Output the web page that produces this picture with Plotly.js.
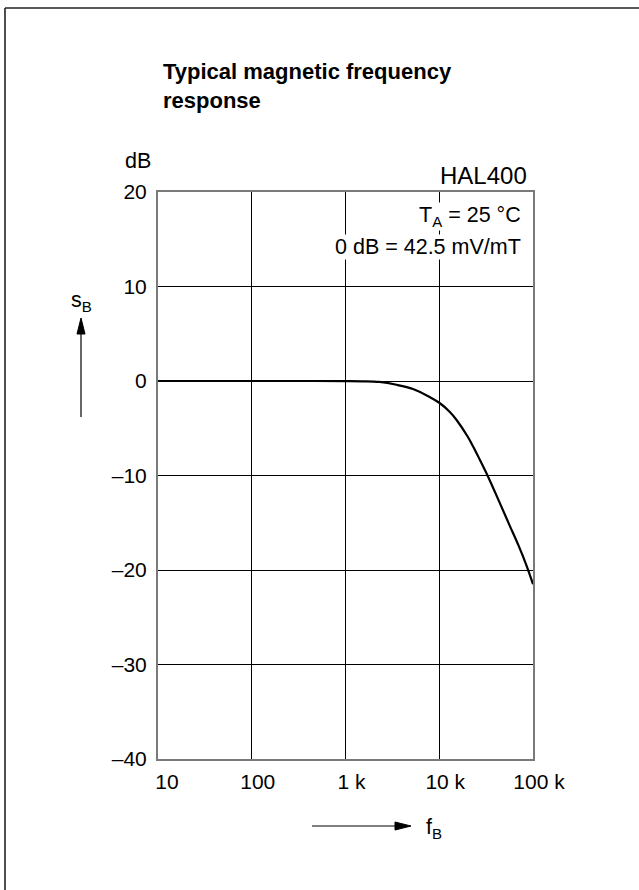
<!DOCTYPE html>
<html>
<head>
<meta charset="utf-8">
<script src="https://cdn.plot.ly/plotly-3.0.1.min.js"></script>
<style>
html,body{margin:0;padding:0;background:#fff;}
#chart{width:639px;height:890px;}
</style>
</head>
<body>
<div id="chart"></div>
<script>
// ---- data ----
const freqHz = [10, 30, 100, 300, 1000, 1500, 2300, 3500, 5250, 7900, 10000, 12900, 15240, 20000, 22900, 27000, 33100, 44200, 56400, 70000, 85100, 100000];
const gainDb = [0, 0, 0, 0, -0.01, -0.03, -0.1, -0.4, -0.85, -1.7, -2.3, -3.25, -4.1, -5.85, -6.9, -8.3, -10.1, -12.9, -15.3, -17.4, -19.5, -21.5];

const xTickVals = [10, 100, 1000, 10000, 100000];
const xTickText = ['\u00a010', '100', '1 k', '10 k', '100 k'];
const yTickVals = [-40, -30, -20, -10, 0, 10, 20];
const yTickText = ['\u201340', '\u201330', '\u201320', '\u201310', '0', '10', '20'];

// ---- layout geometry ----
const W = 639, H = 890;
const M = {l: 158, r: 106, t: 192, b: 131};
const PW = W - M.l - M.r, PH = H - M.t - M.b;
const px = v => (v - M.l) / PW;          // pixel x -> paper x
const py = v => (H - M.b - v) / PH;      // pixel y -> paper y

const FONT = '"Liberation Sans", Arial, Helvetica, sans-serif';

const trace = {
  x: freqHz, y: gainDb, type: 'scatter', mode: 'lines',
  line: {color: '#000', width: 2.2, shape: 'spline', smoothing: 1},
  hoverinfo: 'skip'
};

function seg(x0, y0, x1, y1, w, c) {
  return {type: 'line', xref: 'paper', yref: 'paper', x0: px(x0), y0: py(y0), x1: px(x1), y1: py(y1),
          line: {color: c || '#000', width: w || 1}};
}
function tri(pts) {
  const d = 'M ' + pts.map(p => px(p[0]) + ',' + py(p[1])).join(' L ') + ' Z';
  return {type: 'path', xref: 'paper', yref: 'paper', path: d, fillcolor: '#000', line: {color: '#000', width: 1}};
}

const shapes = [
  seg(5, 8, 5, 900, 1.6, '#222'),
  seg(5, 8, 650, 8, 1.6, '#222'),
  seg(81, 417, 81, 330, 1.2),
  tri([[81, 318], [77, 334], [85, 334]]),
  seg(312, 826, 398, 826, 1.2),
  tri([[411, 826], [395, 822], [395, 830]])
];

const ann = (x, y, text, xanchor, size, extra) => Object.assign({
  xref: 'paper', yref: 'paper', x: px(x), y: py(y), text: text,
  xanchor: xanchor, yanchor: 'middle', showarrow: false,
  font: {family: FONT, size: size, color: '#000'}
}, extra || {});

const annotations = [
  ann(153, 161, 'dB', 'right', 21.5),
  ann(529, 175, 'HAL400', 'right', 24),
  ann(522, 216, 'T<sub>A</sub> = 25 \u00b0C', 'right', 21.5, {bgcolor: '#fff', borderpad: 0}),
  ann(522, 247, '0 dB = 42.5 mV/mT', 'right', 21.5, {bgcolor: '#fff', borderpad: 0}),
  ann(69, 301, 's<sub>B</sub>', 'left', 21.5),
  ann(424, 828, 'f<sub>B</sub>', 'left', 21.5)
];

const axisCommon = {
  showgrid: true, gridcolor: '#000', gridwidth: 1,
  showline: true, mirror: true, linecolor: '#7a7a7a', linewidth: 2,
  zeroline: false, ticks: '', fixedrange: true,
  tickfont: {family: FONT, size: 21, color: '#000'}
};

const layout = {
  width: W, height: H,
  margin: M,
  paper_bgcolor: '#fff', plot_bgcolor: '#fff',
  showlegend: false,
  title: {
    text: 'Typical magnetic frequency<br>response',
    xref: 'container', yref: 'container',
    x: 163 / W, xanchor: 'left',
    y: 1 - 79 / H, yanchor: 'top',
    font: {family: FONT, size: 22, color: '#000', weight: 'bold'}
  },
  xaxis: Object.assign({}, axisCommon, {
    type: 'log', range: [1, 5],
    tickmode: 'array', tickvals: xTickVals, ticktext: xTickText,
    ticklabelstandoff: 3, ticklabelshift: 6
  }),
  yaxis: Object.assign({}, axisCommon, {
    range: [-40, 20],
    tickmode: 'array', tickvals: yTickVals, ticktext: yTickText,
    ticklabelstandoff: 5
  }),
  shapes: shapes,
  annotations: annotations
};

Plotly.newPlot('chart', [trace], layout, {staticPlot: true, displayModeBar: false});
</script>
</body>
</html>
